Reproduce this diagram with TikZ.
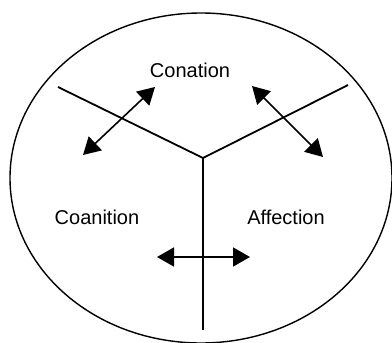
\documentclass[tikz,border=0pt]{standalone}
\usepackage{fontspec}
\setmainfont{Liberation Sans}
\usetikzlibrary{arrows.meta}
\begin{document}
\begin{tikzpicture}[x=1pt,y=-1pt,
  lbl/.style={font=\fontsize{20}{24}\selectfont, inner sep=0pt},
  arm/.style={line width=1.8pt},
  dbl/.style={line width=1.6pt, {Triangle[length=17pt,width=19pt]}-{Triangle[length=17pt,width=19pt]}}]
\useasboundingbox (0,0) rectangle (392,343);
\draw[line width=1.4pt] (201,178) ellipse [x radius=191, y radius=165];
\coordinate (c) at (203,158);
\coordinate (l) at (58,87);
\coordinate (r) at (348,85);
\coordinate (b) at (203,330);
\draw[arm] (l) -- (c) -- (r);
\draw[arm] (c) -- (b);
\node[lbl] (con) at (190,70) {Conation};
\node[lbl] (cog) at (97,217) {Coanition};
\node[lbl] (aff) at (286,217) {Affection};
\coordinate (a1) at (83,155);
\coordinate (a2) at (155,87);
\coordinate (b1) at (252,86);
\coordinate (b2) at (323,157);
\coordinate (h1) at (157,257);
\coordinate (h2) at (250,257);
\draw[dbl] (a1) -- (a2);
\draw[dbl] (b1) -- (b2);
\draw[dbl] (h1) -- (h2);
\end{tikzpicture}
\end{document}
